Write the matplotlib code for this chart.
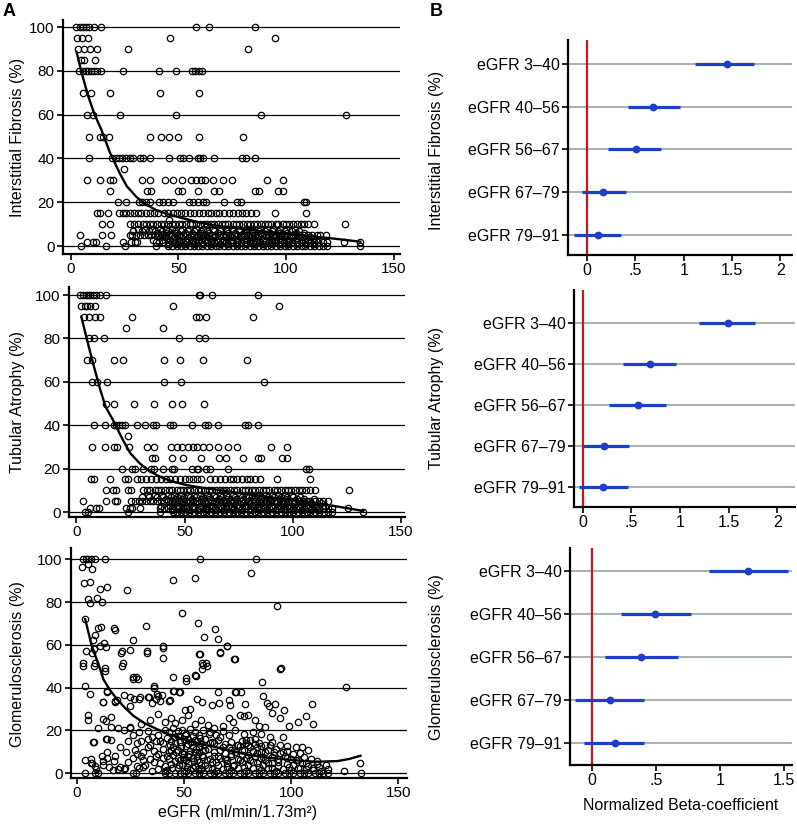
import numpy as np
import matplotlib.pyplot as plt

plt.rcParams['font.family'] = ['Liberation Sans', 'DejaVu Sans']

# ---- panel A : biopsy scores vs eGFR (x values read per score level) ----
fibrosis = {
    100: [2.3, 4, 5.5, 7, 8.5, 10.5, 14, 58, 64, 85.5],
    95: [3, 5, 8, 46, 95],
    90: [3.4, 6, 9, 12, 26.5, 82.5],
    85: [4.6, 6.2, 11.4],
    80: [3.9, 5.4, 6.9, 8, 9.1, 10.6, 12.2, 13.8, 24.2, 41, 49, 56.3, 57.9, 59.4, 61],
    70: [5.7, 9.1, 18, 41.5, 59.7],
    60: [7.5, 10.3, 22.7, 49, 88.3, 128],
    50: [8.3, 13.4, 15, 17.6, 36.9, 42, 45.4, 50, 59.7, 80.2],
    40: [8.3, 19.3, 20.8, 22.4, 23.9, 25.8, 27.3, 28.8, 31.9, 33.5, 36.9, 45.8, 50.5, 52.3,
         54.8, 59.3, 60.2, 61.3, 66.7, 79.3, 81.3, 85.5],
    35: [24.7],
    30: [7.3, 13.4, 18, 19.6, 33, 36.6, 43.8, 47.4, 51.7, 55.6, 58.2, 60.5, 62.4, 65.9, 70.8,
         74.9, 91.3, 98.7],
    25: [18, 35.5, 37.4, 50, 51.7, 58.9, 66.7, 69, 85.5, 87.5, 96.4, 98.6],
    20: [21.9, 25.8, 31.5, 33.2, 35, 36.6, 40.9, 42.7, 45, 47.3, 54.8, 56.6, 58.9, 61.2, 62.8,
         71, 77.2, 79, 108.3, 109.4],
    15: [12.3, 13.4, 17, 22.4, 24.2, 25.8, 27.6, 29.2, 31.2, 32.7, 34.7, 36.6, 38.4, 40.4, 43.1,
         45.1, 47.4, 49.2, 51.2, 53.2, 55.4, 57.4, 59.4, 61.3, 63.6, 65.1, 67.4, 69, 71.3, 73.6,
         75.5, 77.5, 79.5, 81.3, 83.6, 86, 94.8, 109.4],
    12: [45.8],
    10: [14.5, 18, 27.6, 29.4, 31.2, 33.5, 35, 36.8, 38.1, 40.2, 41.9, 43.3, 45.1, 46.8, 48.2,
         50.3, 51.6, 53.4, 55.2, 56.4, 58.3, 60.1, 61.8, 63.2, 65.3, 66.6, 68.4, 70.2, 71.7, 73.1,
         75.4, 76.6, 78.3, 80.1, 81.8, 83.2, 85.3, 86.4, 88.2, 90.1, 91.7, 93.2, 95.3, 96.5, 98.4,
         100.2, 101.6, 103.3, 105.1, 106.8, 108.2, 110.3, 113, 127.6],
    8: [31, 34.2, 37.8, 41.3, 44, 47.2, 51.7, 55.1, 58.3, 61.6, 66, 69.2, 72.4, 75.1, 78.3,
        81.6, 84.2, 88, 91.3, 94.1, 97.4, 100.2, 104],
    7: [29, 33.1, 36.2, 39, 42.3, 45.1, 48.4, 51.2, 54.3, 57.1, 60.4, 63.2, 66.3, 69.1, 72.4,
        75.2, 78.1, 81.3, 84.2, 87.4, 90.1, 93.6, 96.2, 99.3, 103, 106.1],
    6: [40.5, 44.3, 48.6, 52.8, 56.4, 60.7, 64.1, 68.5, 72.9, 76.2, 80.6, 84.8, 88.3, 92.6,
        96.1, 100.4, 104.7, 108.2],
    5: [4.2, 14.5, 18.8, 27.3, 28.5, 30.2, 32.1, 34, 35.6, 37.3, 39.1, 40.4, 42.2, 44, 45.6,
        47.2, 49.1, 50.4, 52.3, 54, 55.7, 57.2, 59.1, 60.6, 62.3, 64, 65.4, 67.2, 69.1, 70.5,
        72.2, 74.1, 75.6, 77.3, 79, 80.6, 82.2, 84.1, 85.4, 87.2, 89, 90.6, 92.3, 94.1, 95.4,
        97.3, 99.1, 100.5, 102.2, 104.1, 106, 108.2, 110.1, 112, 114.2, 116, 118.4],
    4: [43.6, 47.9, 51.4, 55.8, 59.3, 63.7, 67.2, 71.6, 75.1, 79.5, 83.9, 87.4, 91.8, 95.3,
        99.7, 103.2, 107.6, 111.1],
    3: [38, 42.2, 46.1, 50.3, 53.2, 56.1, 59.4, 62.2, 65.3, 68.1, 71.2, 74.3, 77.1, 80.4,
        83.2, 86.1, 89.3, 92.2, 95.1, 98.3, 101.2, 104.1, 107.3, 110.2, 114],
    2: [7.3, 10.3, 11.6, 24.2, 28, 29.6, 30.7, 39.5, 41.1, 43, 45.2, 47.1, 48.5, 50.2, 52.1,
        54, 56.2, 57.5, 59.1, 61, 63.2, 65.1, 66.5, 68.2, 70.1, 72, 74.2, 75.5, 77.1, 79, 81.2,
        83.1, 84.5, 86.2, 88.1, 90, 92.2, 93.5, 95.1, 97, 99.2, 101.1, 103, 105.2, 107.1, 109,
        111.2, 113.1, 115, 117.2, 119, 126.8, 134.6],
    1: [45, 49.2, 53.1, 57.3, 61.2, 65.1, 69.3, 73.2, 77.1, 81.3, 85.2, 89.1, 93.3, 97.2,
        101.1, 105.3, 109.2, 113],
    0: [4.5, 16.5, 25, 39.7, 45, 47.2, 49.1, 51.3, 53, 55.2, 57.1, 59.3, 61, 63.2, 65.1, 67.3,
        69, 71.2, 73.1, 75.3, 77, 79.2, 81.1, 83.3, 85, 87.2, 89.1, 91.3, 93, 95.2, 97.1, 99.3,
        101, 103.2, 105.1, 107.3, 109, 111.2, 113.1, 115.3, 117, 119.2, 134.6],
}

atrophy = {
    100: [1.5, 3, 4.3, 5.4, 6.5, 7.7, 9.2, 10.8, 13.7, 56.7, 57.3, 62.7, 83.7],
    95: [2.3, 3.8, 4.9, 6.1, 8.5, 44.7, 93.7],
    90: [3.4, 5.8, 8.5, 10.8, 25.7, 55.2, 56.7, 60.1, 81.4],
    85: [23.1, 40],
    80: [5.8, 8, 12.8, 47.4, 56.7, 59.3],
    70: [4.9, 7.4, 17.2, 21.5, 40.5, 47.8, 58.5, 78.6],
    60: [7.4, 9.5, 14.1, 40.5, 48.5, 86.6],
    50: [13.5, 17.2, 26.5, 35.7, 44.4, 49, 58.9],
    40: [8, 13.1, 17.2, 18.5, 19.7, 21.3, 22.3, 28, 31.9, 35.4, 37, 43.1, 44.7, 53.4, 59.6,
         60.8, 65.5, 78.1, 79.3, 84],
    35: [23.9],
    30: [7.2, 13.1, 17.2, 18.8, 24.3, 32.4, 35.7, 43.5, 46.5, 49, 51.6, 53.9, 55.5, 58.3, 61.2,
         65.5, 70.1, 74, 89.7, 97.1],
    25: [35.1, 36.2, 44.4, 49.3, 57.8, 65.9, 69, 77, 84, 85.5, 94.8, 97.1],
    20: [21.3, 25.9, 27, 30.9, 34.7, 35.7, 40, 44.2, 45, 53.6, 55.5, 56.2, 60.1, 61.6, 70.1,
         106.3, 107.5],
    15: [6.9, 8, 15.4, 22.3, 23.9, 28, 30, 32.3, 34.7, 37, 39.3, 41.6, 43.4, 45.4, 47.8, 50.1,
         52.1, 53.9, 55.8, 57.8, 61.6, 63.9, 66.2, 68.6, 70.9, 72.4, 74.3, 76.3, 78.6, 80.4,
         82.4, 84.7, 92.8, 107.9],
    10: [13.5, 16.9, 18.5, 23.9, 25.4, 30.8, 32.4, 34.1, 36.2, 37.6, 39.3, 41.1, 42.8, 44.2,
         46.3, 47.7, 49.4, 51.2, 52.6, 54.3, 56.1, 57.8, 59.2, 61.3, 62.7, 64.4, 66.2, 67.6,
         69.3, 71.1, 72.8, 74.2, 76.3, 77.7, 79.4, 81.2, 82.6, 84.3, 86.1, 87.8, 89.2, 91.3,
         92.7, 94.4, 96.2, 97.6, 99.3, 101.1, 102.8, 104.2, 106.3, 108.1, 110.2, 126],
    8: [33.2, 36.1, 39.4, 42.3, 45.1, 48.2, 51.4, 54.3, 57.1, 60.2, 63.4, 66.3, 69.1, 72.2,
        75.4, 78.3, 81.1, 84.2, 87.4, 90.3, 93.1, 96.2, 99.4],
    7: [30.4, 33.6, 37.1, 40.2, 43.5, 46.3, 49.6, 52.4, 55.2, 58.5, 61.3, 64.6, 67.4, 70.2,
        73.5, 76.3, 79.6, 82.4, 85.2, 88.5, 91.3, 94.6, 97.4, 100.2, 103.5],
    6: [41.2, 45.6, 49.1, 53.5, 57.9, 61.4, 65.8, 69.3, 73.7, 77.2, 81.6, 85.1, 89.5, 93.9,
        97.4, 101.8, 105.3, 109.7],
    5: [3.1, 13.5, 17.7, 18.8, 25.4, 27.1, 28.8, 30.4, 32.2, 33.9, 35.5, 37.3, 38.9, 40.6,
        42.2, 44, 45.7, 47.3, 49.1, 50.8, 52.4, 54.1, 55.8, 57.5, 59.2, 60.9, 62.5, 64.3, 65.9,
        67.6, 69.3, 71, 72.6, 74.3, 76, 77.7, 79.4, 81, 82.7, 84.4, 86.1, 87.8, 89.5, 91.1,
        92.8, 94.5, 96.2, 97.9, 99.6, 101.2, 103, 104.6, 106.4, 108.1, 110, 112.3, 114.1, 116.3],
    4: [44.3, 48.7, 52.2, 56.6, 60.1, 64.5, 68.9, 72.4, 76.8, 80.3, 84.7, 88.2, 92.6, 96.1,
        100.5, 104.9, 108.4, 112.8],
    3: [39.2, 43.1, 47.3, 51.2, 54.1, 57.3, 60.2, 63.1, 66.3, 69.2, 72.1, 75.3, 78.2, 81.1,
        84.3, 87.2, 90.1, 93.3, 96.2, 99.1, 102.3, 105.2, 108.1, 111.3, 115],
    2: [6.2, 9.2, 10.5, 23.1, 24.6, 25.9, 29.3, 38.6, 40.3, 42.1, 44.2, 46, 47.6, 49.3, 51.1,
        53.2, 55, 56.6, 58.3, 60.1, 62.2, 64, 65.6, 67.3, 69.1, 71.2, 73, 74.6, 76.3, 78.1, 80.2,
        82, 83.6, 85.3, 87.1, 89.2, 91, 92.6, 94.3, 96.1, 98.2, 100, 101.6, 103.3, 105.1, 107.2,
        109, 110.6, 112.3, 114.1, 116.2, 118, 125.6],
    1: [44.1, 48.3, 52.2, 56.1, 60.3, 64.2, 68.1, 72.3, 76.2, 80.1, 84.3, 88.2, 92.1, 96.3,
        100.2, 104.1, 108.3, 112.2],
    0: [3.8, 5.4, 23.9, 38.5, 44.6, 46.3, 48.2, 50.4, 52.1, 54.3, 56.2, 58.4, 60.1, 62.3, 64.2,
        66.4, 68.1, 70.3, 72.2, 74.4, 76.1, 78.3, 80.2, 82.4, 84.1, 86.3, 88.2, 90.4, 92.1,
        94.3, 96.2, 98.4, 100.1, 102.3, 104.2, 106.4, 108.1, 110.3, 112.2, 114.4, 116.1, 118.3,
        132.5],
}

# glomerulosclerosis is continuous: (eGFR, %) pairs
glomerulo = [
    (3.1, 100), (4.3, 100), (5.4, 100), (6.5, 100), (8.5, 100), (13.2, 100), (57.3, 100),
    (83.7, 100), (2.3, 96.6), (5.4, 97.7), (7, 95.6), (3.5, 89.1), (6.2, 89.4), (10.6, 85.9),
    (14.3, 87), (5.4, 81.3), (9.3, 82), (6.2, 79.4), (11.7, 80.1), (3.9, 72), (10.1, 67.7),
    (11.2, 68.5), (8.5, 64.5), (7.5, 62.2), (4.3, 57.2), (7.8, 57.9), (7.2, 56.1), (10.9, 59.3),
    (12.9, 60.8), (13.7, 58.8), (3.1, 51.5), (8.5, 51.5), (13.2, 49.2), (17.4, 68.1), (18, 67),
    (23.6, 85.7), (26.1, 62.2), (21, 56.9), (24.6, 57.7), (21.5, 51.5), (32.4, 69), (32.7, 56.9),
    (44.8, 90.5), (55.2, 91.1), (49, 75.1), (56.5, 70), (59.1, 63.5), (40.4, 59.3), (40.4, 53.7),
    (57.3, 55.8), (58.4, 51.5), (60.4, 51.5), (64.6, 67.3), (65.7, 62.8), (66.6, 56.6),
    (70, 59.3), (73.6, 53.4), (81.2, 93.6), (93.4, 78.3), (95.2, 49), (26.3, 45), (27.5, 45),
    (44.8, 45), (51, 44.4), (55.2, 46), (3.9, 40.8), (6.2, 36.9), (12.4, 33.3), (14.3, 38),
    (18.6, 34.3), (17.8, 33.1), (22.1, 36.4), (24.6, 31.5), (26.5, 34.6), (29.6, 35.4),
    (33.4, 35.8), (35, 32.7), (36.1, 40.8), (37, 34.6), (37.3, 36.9), (39.7, 36.4), (43.3, 34.3),
    (45.1, 38.5), (48.3, 37.7), (50.6, 29.7), (52.9, 30), (56, 34.6), (58.4, 33.3), (63, 31.8),
    (65.7, 37.7), (66.1, 32.7), (70.8, 34.3), (71.6, 31.8), (74.2, 38), (76.5, 38), (78.6, 32.3),
    (88.7, 32.7), (89.5, 31.5), (92.6, 32.3), (96.8, 29.4), (86.8, 36), (106.9, 26.8),
    (109.7, 32.3), (125.6, 40.1), (5.4, 27.2), (5.4, 24.9), (13.7, 24.6), (15.9, 26.1),
    (13.7, 16), (15.9, 15.4), (7.5, 14.5), (14, 9.9), (3.9, 6.2), (6.5, 6.5), (7, 4.9),
    (8.5, 3.1), (11.7, 8), (12.4, 5.7), (17.4, 5.7), (22.5, 2.2), (2.8, 50.1), (8.2, 50.1),
    (12.1, 33.3), (13.2, 47.8), (14, 38.5), (17.9, 33.8), (20.7, 56.4), (21.3, 50.1),
    (24.9, 35.4), (26.4, 43.9), (28.5, 43.9), (28.8, 34.6), (32.7, 56.4), (36.1, 40),
    (33.9, 35.4), (37.8, 36.1), (38.9, 33.8), (40.4, 58.7), (42.8, 33.8), (45.4, 38.5),
    (47.9, 37.7), (51, 43.1), (55.7, 45.5), (57.2, 55.6), (58.3, 48.6), (60.7, 50.1),
    (58.8, 50.5), (66.6, 56.4), (70, 59.5), (73.4, 53.3), (73.9, 38), (86.3, 42.7),
    (94.9, 48.6),
    # dense band
    (4, 0), (8.5, 0), (10, 0), (26, 0), (27.5, 0), (41, 0), (43, 0), (46, 0), (48, 0), (50, 0),
    (52, 0), (55, 0), (57, 0), (59, 0), (62, 0), (64, 0), (66, 0), (69, 0), (71, 0), (73, 0),
    (76, 0), (78, 0), (80, 0), (83, 0), (85, 0), (87, 0), (90, 0), (92, 0), (94, 0), (97, 0),
    (99, 0), (101, 0), (104, 0), (106, 0), (108, 0), (111, 0), (113, 0), (115, 0), (117, 0),
    (124.5, 1), (132.5, 0),
    (9, 2), (17, 1.5), (19, 2), (22, 1.8), (29, 2.5), (31, 3), (35, 1), (38, 2), (42, 1.5),
    (47, 2.2), (51, 1), (54, 2.5), (58, 1.8), (61, 2.3), (65, 1.2), (68, 2), (72, 1.5),
    (75, 2.4), (79, 1), (82, 2.2), (86, 1.6), (89, 2.5), (93, 1.1), (96, 2), (100, 1.4),
    (103, 2.3), (107, 1.7), (110, 2.6), (114, 1.2), (117, 2),
    (6.5, 4.5), (12, 4), (14, 7), (20, 3), (24, 5), (28, 3.5), (32, 4), (39, 4.5), (41, 3.5),
    (44, 4.2), (46, 5.5), (49, 3.8), (52, 4.6), (55, 3.5), (57, 5), (60, 4), (63, 5.2),
    (66, 3.6), (70, 4.8), (73, 3.4), (77, 5), (80, 3.9), (84, 4.5), (87, 3.6), (91, 4.7),
    (94, 3.5), (98, 4.4), (101, 3.8), (105, 4.6), (108, 3.5), (112, 4.2), (116, 3.8), (132, 4.6),
    (26, 7), (30, 8), (34, 6.5), (37, 8), (40, 7), (43, 6.5), (45, 8.5), (47, 7), (50, 6.5),
    (52, 8), (54, 7), (56, 6), (59, 7.5), (62, 6.5), (64, 8), (67, 7), (70, 6), (72, 8),
    (75, 6.8), (77, 8.5), (79, 7), (81, 6.3), (83, 8), (86, 7), (88, 6), (91, 7.5), (94, 6.5),
    (97, 8), (100, 6.8), (103, 6), (106, 7.5), (109, 6.4), (112, 5.5),
    (27, 11), (31, 10), (33, 12), (36, 10.5), (40, 11.5), (43, 10), (45, 12), (47, 11),
    (49, 9.5), (51, 12.5), (53, 10.5), (55, 9.8), (57, 12), (59, 10.5), (61, 11.5), (64, 10),
    (67, 11), (69, 9.5), (72, 11), (74, 10), (76, 12.5), (78, 11), (80, 13), (82, 10.5),
    (84, 12), (86, 10), (89, 11), (92, 10), (95, 9.5), (98, 10.5), (101, 9), (104, 9.5),
    (8, 14.5), (14, 16), (24, 15), (28, 14), (33, 16), (37, 15), (40, 14), (42, 16.5),
    (44, 15), (46, 17), (48, 14.5), (50, 16), (52, 13.5), (54, 17.5), (56, 15), (58, 14),
    (60, 16), (63, 14.5), (66, 15.5), (69, 13.5), (72, 14.5), (75, 13), (77, 15), (79, 14),
    (81, 15.5), (83, 13.5), (85, 14), (88, 13), (91, 14.5), (95, 13), (98, 12.5), (102, 12),
    (105, 12), (108, 11),
    (22, 20), (25, 21), (29, 19), (33, 19.5), (38, 18), (41, 20), (43, 19), (45, 21),
    (47, 19.5), (49, 20), (51, 18.5), (53, 20.5), (55, 19), (57, 18), (59, 20), (62, 19),
    (65, 18), (68, 19.5), (71, 18), (74, 20), (78, 18.5), (82, 19), (86, 18.5), (90, 17),
    (96, 17),
    (10, 21), (12, 25.5), (16, 21.5), (19, 21), (25, 21.7), (30, 23), (34, 25), (38, 27.5),
    (41, 24), (44, 26), (46, 23.5), (49, 25), (52, 27), (55, 23), (58, 25), (61, 22.5),
    (64, 21), (68, 22), (71, 26), (73, 24), (76, 27), (78, 26.5), (80, 27), (83, 25), (85, 22),
    (88, 21.5), (91, 28), (95, 26), (99, 22), (103, 24), (110, 23),
    # darkest clusters (eGFR 42-62 and 72-92)
    (42, 8), (43.5, 13), (44.5, 2.5), (45.5, 17), (46.5, 10), (47.5, 4), (48.5, 12.5),
    (49.5, 7.5), (50.5, 18), (51.5, 3), (52.5, 9), (53.5, 14.5), (54.5, 5.5), (55.5, 11.5),
    (56.5, 2), (57.5, 16.5), (58.5, 8.5), (59.5, 13), (60.5, 6), (61.5, 18.5), (44, 11),
    (46, 14), (48, 6), (50, 9), (52, 16), (54, 12), (56, 8), (58, 4), (60, 11), (62, 14),
    (47, 17.5), (53, 1.5), (57, 10), (51, 6), (55, 15.5),
    (72, 9), (73.5, 4), (74.5, 13), (76, 6), (77, 11), (78, 3), (79, 15.5), (80, 8.5), (81, 12),
    (82, 5), (83, 16), (84, 9.5), (85, 3), (86, 12.5), (87, 7.5), (88, 10), (89, 4.5), (90, 13),
    (91, 2.5), (92, 8.5), (93, 11.5), (94, 5), (96, 10), (98, 7), (99, 3), (102, 6), (104, 2.5),
    (107, 4.5), (110, 1.5), (113, 3), (66, 8), (68, 12), (70, 3), (64, 14), (63, 2), (65, 5),
    (67, 17), (69, 6.5), (71, 12),
    (36, 5), (38, 9), (34, 13), (31, 6), (28, 9), (39, 15), (35, 17), (41, 1), (30, 15),
    (26, 18), (20, 12), (18, 8), (23, 10), (15, 3),
]

# fitted curves
fib_curve_x = [2.6, 5, 8, 11, 14.2, 18, 22.7, 26, 30.4, 34.5, 39.7, 45, 50.5, 58, 65.9, 75, 84.4, 95, 106, 121.5, 134.6]
fib_curve_y = [88.7, 79, 68.5, 60, 53, 43, 33.2, 27.3, 22.5, 19.2, 16.4, 14.6, 13.1, 11.2, 9.6, 8.4, 7.3, 6.1, 5, 3.5, 2]
atr_curve_x = [2.3, 5, 8, 11, 13.5, 16.9, 21.5, 25, 29.3, 33.5, 38.5, 44, 50.9, 58, 66.3, 77, 87.8, 100, 111, 122, 132.5]
atr_curve_y = [90, 79, 67.5, 56.5, 48.5, 42.4, 33.2, 27, 22.4, 19, 16.3, 14.2, 12.4, 11.2, 10.1, 8.5, 7, 5.4, 4, 2.3, 0.5]
glo_curve_x = [3.9, 7, 10.9, 12.4, 15.5, 18.7, 22.5, 26.4, 31.5, 37.3, 43, 49.8, 57, 65.4, 73, 80.9, 88.5, 96.5, 104, 112, 121.4, 127, 132.3]
glo_curve_y = [72, 59.5, 48.6, 43.9, 38.8, 34.6, 30.5, 26.8, 23.4, 20.6, 18.1, 15.9, 13.9, 12, 10.1, 8.4, 7.3, 6.5, 5.8, 5.3, 5.6, 6.6, 8.1]

# ---- panel B : normalized beta coefficients per eGFR group ----
groups = ['eGFR 3\u201340', 'eGFR 40\u201356', 'eGFR 56\u201367', 'eGFR 67\u201379', 'eGFR 79\u201391']
fib_beta = [1.45, 0.68, 0.51, 0.17, 0.11]
fib_lo = [1.12, 0.42, 0.22, -0.05, -0.13]
fib_hi = [1.73, 0.96, 0.77, 0.40, 0.35]
atr_beta = [1.49, 0.69, 0.57, 0.22, 0.21]
atr_lo = [1.19, 0.41, 0.27, 0.0, -0.04]
atr_hi = [1.77, 0.96, 0.86, 0.47, 0.46]
glo_beta = [1.22, 0.49, 0.38, 0.14, 0.18]
glo_lo = [0.91, 0.23, 0.10, -0.13, -0.06]
glo_hi = [1.53, 0.77, 0.67, 0.41, 0.41]

W, H = 797, 836
BLUE = '#1e3ec8'
RED = '#c4161c'
GRID = '#8e9c9c'
FS = 11.5

fig = plt.figure(figsize=(W / 100, H / 100), dpi=100)


def box(l, t, r, b):
    return [l / W, 1 - b / H, (r - l) / W, (b - t) / H]


def level_points(levels):
    xs, ys = [], []
    for y, xl in levels.items():
        xs += xl
        ys += [y] * len(xl)
    return xs, ys


def style_axes(ax, fs):
    for s in ['top', 'right']:
        ax.spines[s].set_visible(False)
    for s in ['left', 'bottom']:
        ax.spines[s].set_linewidth(1.6)
    ax.tick_params(direction='out', length=4, width=1.2, labelsize=fs, pad=2)


def scatter_panel(rect, xs, ys, cx, cy, xlim, ylim):
    ax = fig.add_axes(rect)
    for g in range(0, 101, 20):
        ax.axhline(g, color='k', lw=0.9, zorder=1)
    ax.plot(xs, ys, 'o', ls='none', ms=4.6, mfc='none', mec='k', mew=0.9, zorder=2)
    ax.plot(cx, cy, 'k-', lw=1.7, zorder=3)
    ax.set_xlim(*xlim)
    ax.set_ylim(*ylim)
    ax.set_xticks([0, 50, 100, 150])
    ax.set_yticks(range(0, 101, 20))
    style_axes(ax, 11)
    return ax


def forest_panel(rect, beta, lo, hi, xlim, ylim, ticks, labels):
    ax = fig.add_axes(rect)
    ypos = [5, 4, 3, 2, 1]
    for y in ypos:
        ax.axhline(y, color=GRID, lw=1.1, zorder=1)
    ax.axvline(0, color=RED, lw=1.6, zorder=2)
    ax.hlines(ypos, lo, hi, color=BLUE, lw=2.3, zorder=3)
    ax.plot(beta, ypos, 'o', color=BLUE, ms=4.6, zorder=4)
    ax.set_xlim(*xlim)
    ax.set_ylim(*ylim)
    ax.set_yticks(ypos)
    ax.set_yticklabels(groups)
    ax.set_xticks(ticks)
    ax.set_xticklabels(labels)
    style_axes(ax, FS)
    return ax


fx, fy = level_points(fibrosis)
ax1 = scatter_panel(box(63, 20, 400, 254), fx, fy, fib_curve_x, fib_curve_y, (-3.7, 153), (-3.6, 103.2))
tx, ty = level_points(atrophy)
ax2 = scatter_panel(box(69, 287, 405, 517), tx, ty, atr_curve_x, atr_curve_y, (-3.4, 151.8), (-2.3, 103.7))
gx = [p[0] for p in glomerulo]
gy = [p[1] for p in glomerulo]
ax3 = scatter_panel(box(71, 548, 407, 778), gx, gy, glo_curve_x, glo_curve_y, (-2.7, 154), (-2.3, 105.3))

b1 = forest_panel(box(568, 40, 792, 255), fib_beta, fib_lo, fib_hi, (-0.197, 2.12), (0.53, 5.56),
                  [0, 0.5, 1, 1.5, 2], ['0', '.5', '1', '1.5', '2'])
b2 = forest_panel(box(574, 290, 795, 507), atr_beta, atr_lo, atr_hi, (-0.09, 2.18), (0.51, 5.8),
                  [0, 0.5, 1, 1.5, 2], ['0', '.5', '1', '1.5', '2'])
b3 = forest_panel(box(570, 548, 792, 765), glo_beta, glo_lo, glo_hi, (-0.17, 1.56), (0.49, 5.53),
                  [0, 0.5, 1, 1.5], ['0', '.5', '1', '1.5'])


# labels placed in pixel coordinates
def ftext(x, y, s, **kw):
    fig.text(x / W, 1 - y / H, s, **kw)


ftext(18, 137, 'Interstitial Fibrosis (%)', rotation=90, ha='center', va='center', fontsize=FS)
ftext(18, 402, 'Tubular Atrophy (%)', rotation=90, ha='center', va='center', fontsize=FS)
ftext(18, 664, 'Glomerulosclerosis (%)', rotation=90, ha='center', va='center', fontsize=FS)
ftext(238, 812, 'eGFR (ml/min/1.73m\u00b2)', ha='center', va='center', fontsize=FS)
ftext(437, 150, 'Interstitial Fibrosis (%)', rotation=90, ha='center', va='center', fontsize=FS)
ftext(437, 398, 'Tubular Atrophy (%)', rotation=90, ha='center', va='center', fontsize=FS)
ftext(437, 657, 'Glomerulosclerosis (%)', rotation=90, ha='center', va='center', fontsize=FS)
ftext(681, 806, 'Normalized Beta-coefficient', ha='center', va='center', fontsize=FS)
ftext(3, 12, 'A', ha='left', va='center', fontsize=13, fontweight='bold')
ftext(430, 12, 'B', ha='left', va='center', fontsize=13, fontweight='bold')

fig.savefig('out.png', dpi=100)
